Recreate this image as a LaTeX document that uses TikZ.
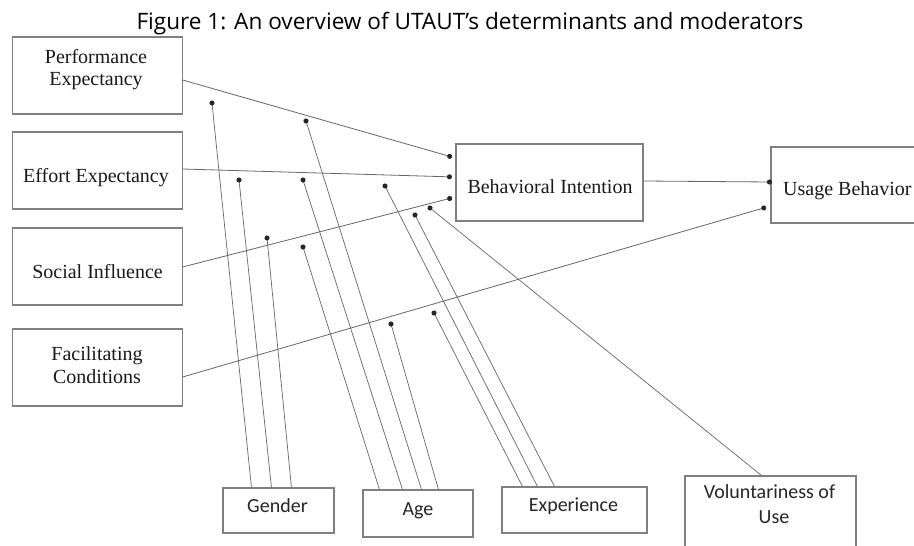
\documentclass[tikz,border=0pt]{standalone}
\usepackage{fontspec}
\setmainfont{Liberation Serif}
\newfontfamily\titlefont{Open Sans}
\newfontfamily\calfont{Carlito}
\usetikzlibrary{arrows.meta}
\begin{document}
\begin{tikzpicture}[x=1pt,y=-1pt,
  bx/.style={draw=black!50, line width=1.1pt, inner sep=0pt, fill=none},
  sertext/.style={font=\fontsize{20}{23}\selectfont, text=black!90, inner sep=0pt, anchor=base},
  caltext/.style={font=\calfont\fontsize{20}{24}\selectfont, text=black!85, inner sep=0pt, anchor=base},
  conn/.style={draw=black!60, line width=0.8pt, -{Circle[length=5pt, width=5pt, color=black!85]}},
  mod/.style={draw=black!60, line width=0.7pt, -{Circle[length=5pt, width=5pt, color=black!85]}, shorten >=-2.5pt}]
\useasboundingbox (0,0) rectangle (914,546);
\fill[white] (0,0) rectangle (914,546);

% title
\node[font=\titlefont\fontsize{22.6}{26}\selectfont, inner sep=0pt, anchor=base] (title) at (470,30)
  {Figure 1: An overview of UTAUT’s determinants and moderators};

% left boxes
\node[bx, minimum width=169.3pt, minimum height=77pt] (pe) at (97.4,75.5) {};
\node[bx, minimum width=169.3pt, minimum height=77pt] (ee) at (97.4,170.5) {};
\node[bx, minimum width=169.3pt, minimum height=77pt] (si) at (97.4,266.5) {};
\node[bx, minimum width=169.3pt, minimum height=77pt] (fc) at (97.4,367.5) {};
\node[sertext] (pet1) at (96,63) {Performance};
\node[sertext] (pet2) at (96,85) {Expectancy};
\node[sertext] (eet) at (96,182) {Effort Expectancy};
\node[sertext] (sit) at (97.5,278) {Social Influence};
\node[sertext] (fct1) at (97,360) {Facilitating};
\node[sertext] (fct2) at (97,383) {Conditions};

% middle/right boxes
\node[bx, minimum width=187pt, minimum height=77pt] (bi) at (549.5,182.5) {};
\node[sertext] (bit) at (550,193) {Behavioral Intention};
\node[bx, minimum width=170pt, minimum height=76pt] (ub) at (856,185) {};
\node[sertext, anchor=base west] (ubt) at (783,195) {Usage Behavior};

% bottom boxes
\node[bx, minimum width=111pt, minimum height=45pt] (gender) at (278.5,510.5) {};
\node[caltext] (gendert) at (277.5,512) {Gender};
\node[bx, minimum width=110pt, minimum height=47pt] (age) at (418,513.5) {};
\node[caltext] (aget) at (418,515) {Age};
\node[bx, minimum width=145pt, minimum height=46pt] (exper) at (574.5,510) {};
\node[caltext] (expert) at (573.5,511) {Experience};
\node[bx, minimum width=171pt, minimum height=84pt] (vol) at (770.5,518) {};
\node[caltext] (volt1) at (769.5,498) {Voluntariness of};
\node[caltext] (volt2) at (774,523) {Use};

% main paths
\draw[conn, shorten >=3.5pt] ([yshift=-4.5pt]pe.east) -- ([yshift=24.5pt]bi.west);
\draw[conn, shorten >=3.5pt] ([yshift=1.5pt]ee.east) -- ([yshift=5.5pt]bi.west);
\draw[conn, shorten >=3.5pt] ([yshift=-0.5pt]si.east) -- ([yshift=-14.5pt]bi.west);
\draw[conn, shorten >=4.5pt] ([yshift=-9.5pt]fc.east) -- ([yshift=-21pt]ub.west);
\draw[conn, shorten >=-1.5pt] ([yshift=1.5pt]bi.east) -- ([yshift=3pt]ub.west);

% moderator end points
\coordinate (g1) at (212,103);
\coordinate (g2) at (239,180);
\coordinate (g3) at (267,238);
\coordinate (a1) at (303,247);
\coordinate (a2) at (303,180);
\coordinate (a3) at (306,121);
\coordinate (a4) at (391,324);
\coordinate (e1) at (434,313);
\coordinate (e2) at (385,186);
\coordinate (e3) at (415,215);
\coordinate (v1) at (430,208);

% moderators
\draw[mod] ([xshift=29pt]gender.north west) -- (g1);
\draw[mod] ([xshift=49pt]gender.north west) -- (g2);
\draw[mod] ([xshift=69pt]gender.north west) -- (g3);
\draw[mod] ([xshift=17pt]age.north west) -- (a1);
\draw[mod] ([xshift=40pt]age.north west) -- (a2);
\draw[mod] ([xshift=59pt]age.north west) -- (a3);
\draw[mod] ([xshift=76pt]age.north west) -- (a4);
\draw[mod] ([xshift=21pt]exper.north west) -- (e1);
\draw[mod] ([xshift=36pt]exper.north west) -- (e2);
\draw[mod] ([xshift=53pt]exper.north west) -- (e3);
\draw[mod] ([xshift=77pt]vol.north west) -- (v1);
\end{tikzpicture}
\end{document}
